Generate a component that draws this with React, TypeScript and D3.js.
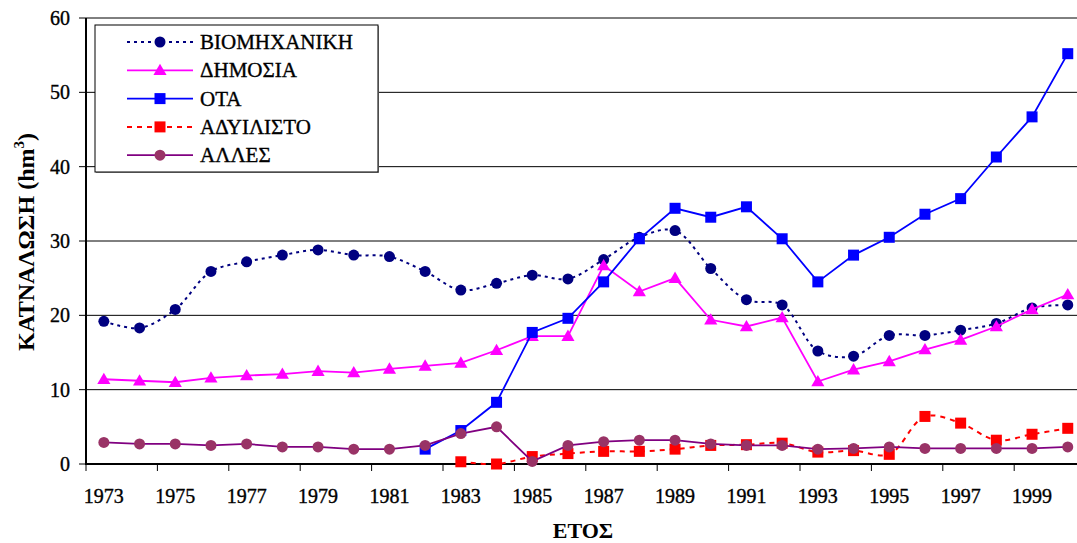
import React, { useRef, useEffect } from 'react';
import * as d3 from 'd3';

// years on the x axis
const years = d3.range(1973, 2001);

// hm3 per year (null = no value)
const industry = [19.2, 18.3, 20.8, 25.9, 27.2, 28.1, 28.8, 28.1, 27.9, 25.9, 23.4, 24.3, 25.4, 24.9, 27.5, 30.5, 31.4, 26.3, 22.1, 21.4, 15.2, 14.5, 17.3, 17.3, 18.0, 18.9, 21.0, 21.4];
const publicUse = [11.4, 11.2, 11.0, 11.6, 11.9, 12.1, 12.5, 12.3, 12.8, 13.2, 13.6, 15.3, 17.2, 17.2, 26.7, 23.2, 25.0, 19.4, 18.5, 19.7, 11.1, 12.7, 13.8, 15.4, 16.7, 18.5, 20.8, 22.8];
const ota = [null, null, null, null, null, null, null, null, null, 2.0, 4.5, 8.3, 17.7, 19.6, 24.5, 30.3, 34.4, 33.2, 34.6, 30.3, 24.5, 28.1, 30.5, 33.6, 35.7, 41.3, 46.7, 55.2];
const raw = [null, null, null, null, null, null, null, null, null, null, 0.3, 0.0, 1.0, 1.4, 1.7, 1.7, 2.0, 2.5, 2.6, 2.8, 1.6, 1.8, 1.3, 6.4, 5.5, 3.2, 4.0, 4.8];
const other = [2.9, 2.7, 2.7, 2.5, 2.7, 2.3, 2.3, 2.0, 2.0, 2.5, 4.1, 5.0, 0.35, 2.5, 3.0, 3.2, 3.2, 2.7, 2.5, 2.5, 2.0, 2.1, 2.3, 2.1, 2.1, 2.1, 2.1, 2.3];

const yTicks = [0, 10, 20, 30, 40, 50, 60];

const series = [
  { name: 'ΒΙΟΜΗΧΑΝΙΚΗ', values: industry, line: '#000080', fill: '#000080', marker: 'circle', dash: '3,4', smooth: true, width: 2 },
  { name: 'ΔΗΜΟΣΙΑ', values: publicUse, line: '#FF00FF', fill: '#FF00FF', marker: 'triangle', dash: null, smooth: false, width: 1.8 },
  { name: 'ΟΤΑ', values: ota, line: '#0000FF', fill: '#0000FF', marker: 'square', dash: null, smooth: false, width: 1.8 },
  { name: 'ΑΔΥΙΛΙΣΤΟ', values: raw, line: '#FF0000', fill: '#FF0000', marker: 'square', dash: '5,5', smooth: true, width: 2 },
  { name: 'ΑΛΛΕΣ', values: other, line: '#800080', fill: '#993366', marker: 'circle', dash: null, smooth: false, width: 1.8 },
];

const W = 1077;
const H = 543;
const FONT = "'Liberation Serif'";

const App = () => {
  const svgRef = useRef(null);

  useEffect(() => {
    const svg = d3.select(svgRef.current);
    svg.selectAll('*').remove();

    const left = 86, top = 18, bottom = 464;
    const step = 35.7;
    const x = d3.scaleBand().domain(years).range([left, left + step * years.length]);
    const y = d3.scaleLinear().domain([0, 60]).range([bottom, top]);
    const cx = (yr) => x(yr) + x.bandwidth() / 2;

    // plain text, slightly thickened like the original's rendering
    const label = (sel, size) => sel
      .attr('font-family', FONT).attr('font-size', size)
      .attr('fill', '#000').attr('stroke', '#000').attr('stroke-width', 0.35);

    // gridlines
    svg.append('g')
      .selectAll('line')
      .data(yTicks.filter(t => t > 0))
      .enter()
      .append('line')
      .attr('x1', left).attr('x2', W)
      .attr('y1', d => y(d)).attr('y2', d => y(d))
      .attr('stroke', '#000').attr('stroke-width', 1);

    // y axis
    svg.append('line').attr('x1', left).attr('x2', left).attr('y1', top).attr('y2', bottom + 1)
      .attr('stroke', '#000').attr('stroke-width', 2);
    svg.append('g').selectAll('line').data(yTicks).enter().append('line')
      .attr('x1', left - 7).attr('x2', left).attr('y1', d => y(d)).attr('y2', d => y(d))
      .attr('stroke', '#000').attr('stroke-width', 1);
    label(svg.append('g').selectAll('text').data(yTicks).enter().append('text')
      .attr('x', 70).attr('y', d => y(d) + 7)
      .attr('text-anchor', 'end'), 20)
      .text(d => d);

    // x axis
    svg.append('line').attr('x1', left).attr('x2', W).attr('y1', bottom).attr('y2', bottom)
      .attr('stroke', '#000').attr('stroke-width', 2);
    const tickYears = years.filter((d, i) => i % 2 === 0);
    svg.append('g').selectAll('line').data(tickYears).enter().append('line')
      .attr('x1', d => x(d)).attr('x2', d => x(d)).attr('y1', bottom).attr('y2', bottom + 7)
      .attr('stroke', '#000').attr('stroke-width', 1);
    label(svg.append('g').selectAll('text').data(tickYears).enter().append('text')
      .attr('x', d => cx(d)).attr('y', 503)
      .attr('text-anchor', 'middle'), 20)
      .text(d => d);

    // axis titles
    svg.append('text')
      .attr('x', 583).attr('y', 538)
      .attr('text-anchor', 'middle')
      .attr('font-family', FONT).attr('font-size', 22).attr('font-weight', 'bold')
      .text('ΕΤΟΣ');

    const yt = svg.append('text')
      .attr('transform', 'translate(34,242) rotate(-90)')
      .attr('text-anchor', 'middle')
      .attr('font-family', FONT).attr('font-size', 24).attr('font-weight', 'bold');
    yt.append('tspan').text('ΚΑΤΝΑΛΩΣΗ (hm');
    yt.append('tspan').attr('dy', -10).attr('font-size', 15).text('3');
    yt.append('tspan').attr('dy', 10).text(')');

    const drawMarker = (g, kind, px, py, fill) => {
      if (kind === 'circle') {
        g.append('circle').attr('cx', px).attr('cy', py).attr('r', 5.5).attr('fill', fill);
      } else if (kind === 'square') {
        g.append('rect').attr('x', px - 5.5).attr('y', py - 5.5).attr('width', 11).attr('height', 11).attr('fill', fill);
      } else {
        g.append('path').attr('d', d3.symbol().type(d3.symbolTriangle).size(75)()).attr('transform', `translate(${px},${py + 1})`).attr('fill', fill);
      }
    };

    // series
    series.forEach(s => {
      const pts = years.map((yr, i) => [yr, s.values[i]]).filter(p => p[1] !== null);
      const line = d3.line()
        .x(p => cx(p[0]))
        .y(p => y(p[1]))
        .curve(s.smooth ? d3.curveCatmullRom.alpha(0.5) : d3.curveLinear);
      const g = svg.append('g');
      g.append('path')
        .attr('d', line(pts))
        .attr('fill', 'none')
        .attr('stroke', s.line)
        .attr('stroke-width', s.width)
        .attr('stroke-dasharray', s.dash);
      pts.forEach(p => drawMarker(g, s.marker, cx(p[0]), y(p[1]), s.fill));
    });

    // legend
    const lg = svg.append('g');
    lg.append('rect').attr('x', 96).attr('y', 26).attr('width', 283).attr('height', 147).attr('fill', '#999');
    lg.append('rect').attr('x', 95).attr('y', 25).attr('width', 283).attr('height', 147)
      .attr('fill', '#fff').attr('stroke', '#000').attr('stroke-width', 1);
    series.forEach((s, i) => {
      const ly = 42 + i * 28.3;
      lg.append('line').attr('x1', 127).attr('x2', 193).attr('y1', ly).attr('y2', ly)
        .attr('stroke', s.line).attr('stroke-width', s.width).attr('stroke-dasharray', s.dash);
      drawMarker(lg, s.marker, 160, ly, s.fill);
      label(lg.append('text').attr('x', 200).attr('y', ly + 7), 21)
        .text(s.name);
    });
  }, []);

  return (
    <svg ref={svgRef} width={W} height={H} style={{ position: 'absolute', left: 0, top: 0, background: '#fff' }}></svg>
  );
};

export default App;
